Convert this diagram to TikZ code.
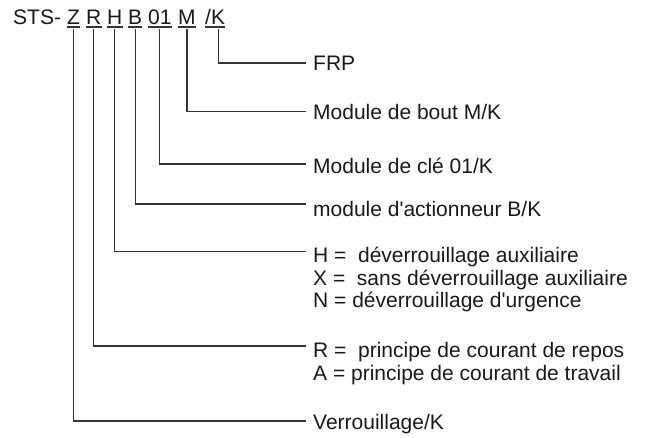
\documentclass[tikz,border=0pt]{standalone}
\usepackage{fontspec}
\newfontfamily\arialf{Liberation Sans}
\begin{document}
\begin{tikzpicture}[x=1pt,y=-1pt,
  txt/.style={font=\arialf\fontsize{21}{25}\selectfont, text=black!90, inner sep=0pt},
  hdr/.style={txt, anchor=base west},
  lbl/.style={txt, anchor=west, inner xsep=7pt, inner ysep=0pt, text height=15pt, text depth=0pt},
  conn/.style={draw=black!80, line width=1.2pt},
  uline/.style={draw=black!80, line width=1.1pt}]
\useasboundingbox (0,0) rectangle (649,438);
% header
\node[hdr] (sts) at (13,24.5) {STS-};
\node[hdr] (z)  at (67,24.5) {Z};
\node[hdr] (r)  at (86,24.5) {R};
\node[hdr] (h)  at (107,24.5) {H};
\node[hdr] (b)  at (128,24.5) {B};
\node[hdr] (n01) at (148,24.5) {01};
\node[hdr] (m)  at (178,24.5) {M};
\node[hdr] (k)  at (205,24.5) {/K};
\foreach \n in {z,r,h,b,n01,m,k}
  \draw[uline] ([yshift=-2.5pt]\n.base west) -- ([yshift=-2.5pt]\n.base east);
% labels
\node[lbl] (frp)  at (306,63)  {FRP};
\node[lbl] (bout) at (306,112) {Module de bout M/K};
\node[lbl] (cle)  at (306,166) {Module de clé 01/K};
\node[lbl] (act)  at (306,209) {module d'actionneur B/K};
\node[lbl] (hl)   at (306,255.5) {H = \ déverrouillage auxiliaire};
\node[lbl] (xl)   at (306,278.5) {X = \ sans déverrouillage auxiliaire};
\node[lbl] (nl)   at (306,300.5) {N = déverrouillage d'urgence};
\node[lbl] (rl)   at (306,350) {R = \ principe de courant de repos};
\node[lbl] (al)   at (306,373) {A = principe de courant de travail};
\node[lbl] (vl)   at (306,422) {Verrouillage/K};
% connectors
\draw[conn] ([yshift=-5pt]k.base) ++(3,0) |- (frp.west);
\draw[conn] ([yshift=-5pt]m.base) |- ([yshift=0.5pt]bout.west);
\draw[conn] ([yshift=-5pt]n01.base) |- ([yshift=2pt]cle.west);
\draw[conn] ([yshift=-5pt]b.base) |- ([yshift=5pt]act.west);
\draw[conn] ([yshift=-5pt]h.base) |- ([yshift=4pt]hl.west);
\draw[conn] ([yshift=-5pt]r.base) |- ([yshift=4pt]rl.west);
\draw[conn] ([yshift=-5pt]z.base) |- ([yshift=1pt]vl.west);
\end{tikzpicture}
\end{document}
